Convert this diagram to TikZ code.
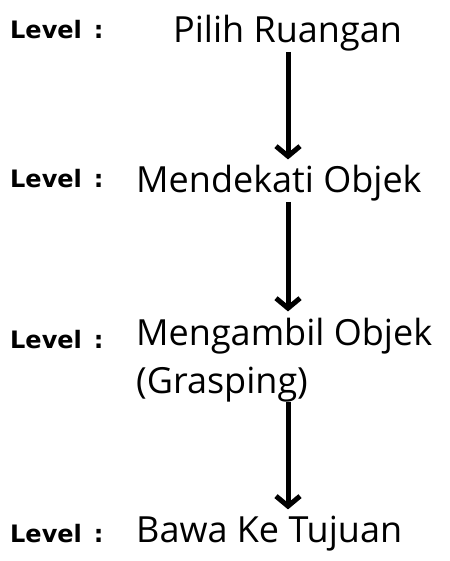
\documentclass[tikz,border=0pt]{standalone}
\usepackage{fontspec}
\setmainfont{Open Sans}
\newfontfamily\levelfont{DejaVu Sans}
\usetikzlibrary{arrows.meta}
\tikzset{
  levelnode/.style={anchor=base west,inner sep=0pt,font=\levelfont\bfseries\fontsize{24}{28}\selectfont},
  stepnode/.style={anchor=base west,inner sep=0pt,align=left,font=\fontsize{36}{48}\selectfont},
  flowarrow/.style={line width=5pt,-{Straight Barb[length=10pt,width=24pt]},shorten >=6pt}
}
\begin{document}
\begin{tikzpicture}[x=1pt,y=-1pt]
\useasboundingbox (0,0) rectangle (449,561);
% labels on the left
\node[levelnode] (lv1) at (10,39) {Level\hspace{12pt}:};
\node[levelnode] (lv2) at (10,187) {Level\hspace{12pt}:};
\node[levelnode] (lv3) at (10,348) {Level\hspace{12pt}:};
\node[levelnode] (lv4) at (10,542) {Level\hspace{12pt}:};
% steps
\node[stepnode] (s1) at (173,43) {Pilih Ruangan};
\node[stepnode] (s2) at (136,193) {Mendekati Objek};
\node[stepnode] (s3) at (136,393) {Mengambil Objek\\(Grasping)};
\node[stepnode] (s4) at (136,542) {Bawa Ke Tujuan};
\coordinate (axis) at (288,0);
% arrows
\draw[flowarrow] (s1.south -| axis) -- (s2.north -| axis);
\draw[flowarrow] (s2.south -| axis) -- (s3.north -| axis);
\draw[flowarrow] (s3.south -| axis) -- (s4.north -| axis);
\end{tikzpicture}
\end{document}
